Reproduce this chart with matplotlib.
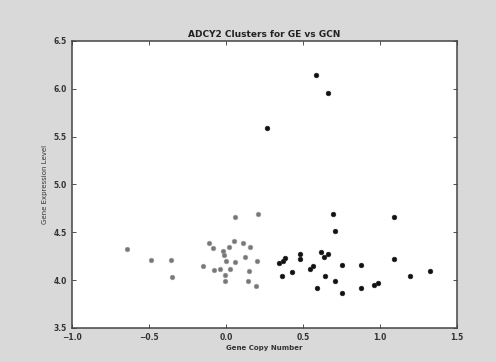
import matplotlib
matplotlib.use("Agg")
import matplotlib.pyplot as plt

# cluster 1 (lighter markers)
c1_x = [-0.645, -0.489, -0.357, -0.349, 0.058, 0.208, -0.151, -0.110, -0.082,
        -0.076, -0.039, -0.017, -0.011, 0.004, -0.006, -0.006, 0.019, 0.026,
        0.052, 0.058, 0.108, 0.156, 0.123, 0.152, 0.145, 0.193, 0.203]
c1_y = [4.33, 4.21, 4.21, 4.03, 4.66, 4.69, 4.15, 4.39, 4.34,
        4.11, 4.12, 4.30, 4.26, 4.20, 4.05, 3.99, 4.35, 4.12,
        4.41, 4.19, 4.39, 4.35, 4.24, 4.10, 3.99, 3.94, 4.20]

# cluster 2 (dark markers)
c2_x = [0.266, 0.584, 0.662, 0.697, 0.708, 1.091, 1.091, 1.325, 1.199, 0.989,
        0.963, 0.875, 0.875, 0.751, 0.751, 0.708, 0.643, 0.589, 0.615, 0.636,
        0.664, 0.545, 0.567, 0.481, 0.481, 0.431, 0.364, 0.346, 0.372, 0.383]
c2_y = [5.59, 6.14, 5.96, 4.69, 4.51, 4.66, 4.22, 4.10, 4.04, 3.97,
        3.95, 3.92, 4.16, 4.16, 3.87, 3.99, 4.04, 3.92, 4.29, 4.24,
        4.27, 4.12, 4.15, 4.27, 4.22, 4.09, 4.04, 4.18, 4.20, 4.23]

x_ticks = [-1.0, -0.5, 0.0, 0.5, 1.0, 1.5]
y_ticks = [3.5, 4.0, 4.5, 5.0, 5.5, 6.0, 6.5]

fig = plt.figure(figsize=(4.96, 3.62), dpi=100, facecolor="#d9d9d9")
ax = fig.add_axes([0.145, 0.094, 0.776, 0.793])
ax.set_facecolor("white")

ax.scatter(c1_x, c1_y, s=11, c="#777777", edgecolors="#999999", linewidths=0.5)
ax.scatter(c2_x, c2_y, s=11, c="#111111", edgecolors="#222222", linewidths=0.5)

ax.set_xlim(-1.0, 1.5)
ax.set_ylim(3.5, 6.5)
ax.set_xticks(x_ticks)
ax.set_yticks(y_ticks)
ax.tick_params(direction="in", top=True, right=True, labelsize=5.5,
               colors="#333333", length=3, width=0.6)
for lbl in ax.get_xticklabels() + ax.get_yticklabels():
    lbl.set_fontweight("bold")
for s in ax.spines.values():
    s.set_color("#444444")
    s.set_linewidth(1.1)

ax.set_title("ADCY2 Clusters for GE vs GCN", fontsize=6.5, fontweight="bold",
             color="#222222", pad=3)
ax.set_xlabel("Gene Copy Number", fontsize=5, fontweight="bold", color="#333333", labelpad=2)
ax.set_ylabel("Gene Expression Level", fontsize=5, color="#333333", labelpad=4)

fig.savefig("out.png", dpi=100, facecolor=fig.get_facecolor())
